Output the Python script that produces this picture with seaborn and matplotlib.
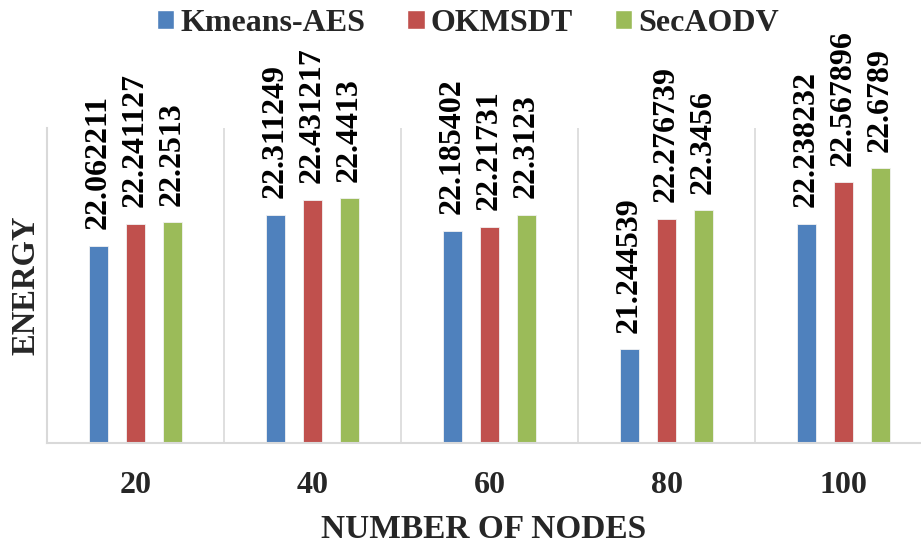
import matplotlib
matplotlib.use("Agg")
import matplotlib.pyplot as plt
import seaborn as sns
import pandas as pd
import numpy as np

# Energy consumed by each scheme for a growing number of nodes
nodes = ["20", "40", "60", "80", "100"]
series = ["Kmeans-AES", "OKMSDT", "SecAODV"]
kmeans_aes = [22.062211, 22.311249, 22.185402, 21.244539, 22.238232]
okmsdt = [22.241127, 22.431217, 22.21731, 22.276739, 22.567896]
secaodv = [22.2513, 22.4413, 22.3123, 22.3456, 22.6789]
colors = ["#4F81BD", "#C0504D", "#9BBB59"]

df = pd.DataFrame({
    "nodes": nodes * 3,
    "scheme": [s for s in series for _ in nodes],
    "energy": kmeans_aes + okmsdt + secaodv,
})

sns.set_theme(style="white")
plt.rcParams["font.family"] = ["Liberation Serif", "DejaVu Serif"]
plt.rcParams["font.weight"] = "bold"

fig = plt.figure(figsize=(9.21, 5.44), dpi=100)
W, H = 921, 544
left, right, top, bottom = 47, 921, 128, 443
ax = fig.add_axes([left / W, (H - bottom) / H, (right - left) / W, (bottom - top) / H])

sns.barplot(data=df, x="nodes", y="energy", hue="scheme", order=nodes,
            hue_order=series, palette=colors, saturation=1, width=0.627, gap=0.47,
            edgecolor="#f2f2f2", linewidth=0.6, ax=ax, legend=True)

ax.set_ylim(20.5, 23.0)
ax.set_xlim(-0.5, 4.5 - 11 / 177)
ax.set_yticks([])

# value labels above every bar
for cont, vals in zip(ax.containers, [kmeans_aes, okmsdt, secaodv]):
    ax.bar_label(cont, labels=[str(v) for v in vals], rotation=90, padding=12,
                 fontsize=23, fontweight="bold", color="black")

# light separators between node groups
ax.set_xticks(np.arange(0.5, 4.5, 1.0), minor=True)
ax.grid(False)
ax.grid(True, which="minor", axis="x", color="#d9d9d9", linewidth=1.2)
ax.tick_params(axis="x", which="both", length=0, pad=20, labelsize=23)
for lab in ax.get_xticklabels():
    lab.set_fontweight("bold")

for side in ["top", "right"]:
    ax.spines[side].set_visible(False)
for side in ["left", "bottom"]:
    ax.spines[side].set_color("#d9d9d9")
    ax.spines[side].set_linewidth(1.5)

ax.set_xlabel("NUMBER OF NODES", fontsize=24, fontweight="bold", labelpad=10)
ax.set_ylabel("ENERGY", fontsize=23.5, fontweight="bold", labelpad=4)

ax.legend_.remove()
handles = [plt.Rectangle((0, 0), 1, 1, facecolor=c) for c in colors]
fig.legend(handles, series, loc="upper center", bbox_to_anchor=(468 / W, 0.99),
           ncol=3, frameon=False, prop={"size": 23, "weight": "bold"},
           handlelength=0.55, handleheight=0.55, handletextpad=0.2,
           columnspacing=1.3, borderaxespad=0.0, borderpad=0.1)

fig.savefig("out.png", dpi=100)
